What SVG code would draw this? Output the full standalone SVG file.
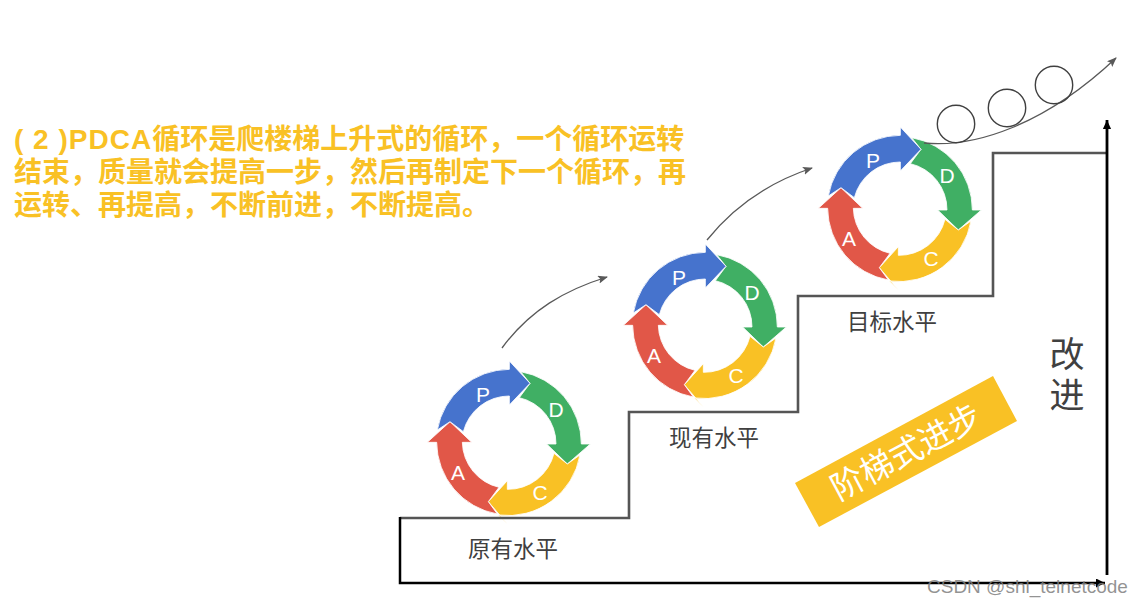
<svg xmlns="http://www.w3.org/2000/svg" width="1142" height="605" viewBox="0 0 1142 605">
<style>
text{font-family:"Liberation Sans","Noto Sans CJK SC",sans-serif}
.seg{stroke:#fff;stroke-width:2.5;stroke-linejoin:miter}
.l{font-size:21px;fill:#fff;text-anchor:middle}
.c{font-size:22.5px;fill:#404040;text-anchor:middle}
.h{font-size:28px;font-weight:700;fill:#F9C125}
.curve{fill:none;stroke:#595959;stroke-width:1.3}
.ball{fill:none;stroke:#404040;stroke-width:1.4}
</style>
<defs>
<marker id="ga" markerWidth="12" markerHeight="10" refX="9" refY="4" orient="auto" markerUnits="userSpaceOnUse"><path d="M0 0L10 4L0 8L2 4Z" fill="#595959"/></marker>
<marker id="ka" markerWidth="12" markerHeight="12" refX="9" refY="4.5" orient="auto" markerUnits="userSpaceOnUse"><path d="M0 0L9 4.5L0 9Z" fill="#000"/></marker>
<marker id="kb" markerWidth="12" markerHeight="12" refX="9" refY="4.5" orient="auto" markerUnits="userSpaceOnUse"><path d="M-2 -0.5L9 4.5L-2 9.5Z" fill="#000"/></marker>
<g id="ring" transform="translate(420 350) scale(.33333)">
<path class="seg" fill="#40AF64" d="M302 65A220 220 0 0 1 484 282L511 282L442 342L380 282L408 282A142 142 0 0 0 298 143L330 100Z"/>
<path class="seg" fill="#F9C125" d="M480 315A220 220 0 0 1 235 495L262 522L205 455L262 392L262 418A142 142 0 0 0 402 310L442 342Z"/>
<path class="seg" fill="#E15748" d="M232 492A220 220 0 0 1 50 277L22 277L90 215L155 277L127 277A142 142 0 0 0 237 412L205 455Z"/>
<path class="seg" fill="#4673CD" d="M52 240A220 220 0 0 1 268 58L268 33L330 100L268 165L268 138A142 142 0 0 0 130 245L90 215Z"/>
</g>
</defs>
<text class="h" x="14" y="149" xml:space="preserve"><tspan letter-spacing="1">( 2 )PDCA</tspan>循环是爬楼梯上升式的循环，一个循环运转</text>
<text class="h" x="14" y="182">结束，质量就会提高一步，然后再制定下一个循环，再</text>
<text class="h" x="14" y="215">运转、再提高，不断前进，不断提高。</text>
<g id="cycle1"><use href="#ring"/><text class="l" x="483" y="402">P</text><text class="l" x="556" y="417">D</text><text class="l" x="540" y="500">C</text><text class="l" x="458" y="480">A</text></g>
<g id="cycle2"><use href="#ring" transform="translate(196 -117)"/><text class="l" x="679" y="285">P</text><text class="l" x="752" y="300">D</text><text class="l" x="736" y="383">C</text><text class="l" x="654" y="363">A</text></g>
<g id="cycle3"><use href="#ring" transform="translate(391 -234)"/><text class="l" x="873" y="168">P</text><text class="l" x="947" y="183">D</text><text class="l" x="931" y="266">C</text><text class="l" x="849" y="246">A</text></g>
<g id="connectors">
<path d="M400 518H629V412H798V296H993V153H1107" fill="none" stroke="#555" stroke-width="2.6"/>
<path d="M400 517V583H1105" fill="none" stroke="#000" stroke-width="2.5" marker-end="url(#ka)"/>
<path d="M1107 575V120" fill="none" stroke="#000" stroke-width="2.8" marker-end="url(#kb)"/>
<path class="curve" d="M502 348C530 310 565 290 607 277" marker-end="url(#ga)"/>
<path class="curve" d="M707 240C735 205 770 182 812 168" marker-end="url(#ga)"/>
<path class="curve" d="M924 143C975 148 1045 125 1116 58" marker-end="url(#ga)"/>
</g>
<g id="balls"><circle class="ball" cx="956" cy="124" r="18.7"/><circle class="ball" cx="1007" cy="108" r="18.7"/><circle class="ball" cx="1054" cy="85" r="18.7"/></g>
<g id="level1"><text class="c" x="513" y="557">原有水平</text></g>
<g id="level2"><text class="c" x="714" y="446">现有水平</text></g>
<g id="level3"><text class="c" x="892" y="330">目标水平</text></g>
<g id="improve"><text x="1067" y="367" font-size="35" fill="#404040" text-anchor="middle">改</text><text x="1067" y="408" font-size="35" fill="#404040" text-anchor="middle">进</text></g>
<g id="banner"><polygon points="993,376 1017,421 819,527 795,483" fill="#F9C125"/><text transform="translate(906 452) rotate(-28)" y="12" font-size="33" fill="#fff" text-anchor="middle">阶梯式进步</text></g>
<text x="927" y="593" font-size="19" fill="#808080" fill-opacity=".85">CSDN @shl_telnetcode</text>
</svg>
